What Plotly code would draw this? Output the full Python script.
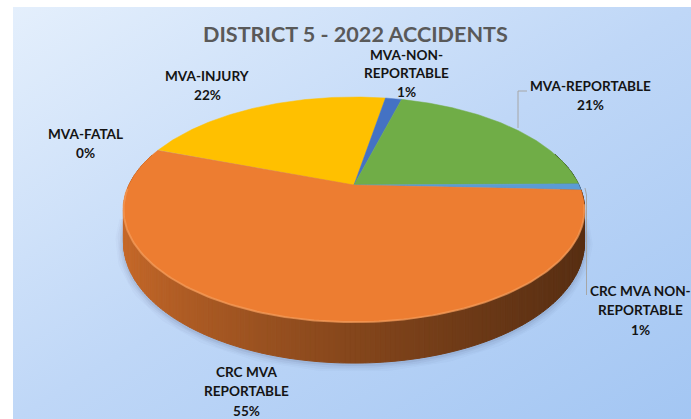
import base64, math
import plotly.graph_objects as go

# --- data ---
categories = ["MVA-FATAL", "MVA-INJURY", "MVA-NON-REPORTABLE", "MVA-REPORTABLE",
              "CRC MVA NON-REPORTABLE", "CRC MVA REPORTABLE"]
values = [0.1, 22.0, 1.4, 20.7, 0.9, 54.9]
colors = ["#A5A5A5", "#FFC000", "#4472C4", "#70AD47", "#5B9BD5", "#ED7D31"]
title_text = "DISTRICT 5 - 2022 ACCIDENTS"
# label lines (without the percentage) and where each label sits
label_lines = [["MVA-FATAL"], ["MVA-INJURY"], ["MVA-NON-", "REPORTABLE"], ["MVA-REPORTABLE"],
               ["CRC MVA NON-", "REPORTABLE"], ["CRC MVA", "REPORTABLE"]]
label_pos = [(85, 134), (207, 76), (406, 55), (590, 86), (640, 291), (246, 372)]
label_gap = [19.3, 19.3, 18.4, 19.3, 19.3, 19.3]

W, H = 691, 419
START = -69.4 - 0.36        # degrees clockwise from north
CX, CY = 354.0, 185.0       # apex on the page
A, B, K = 225.0, 107.2, 0.218  # perspective of the disc


def project(theta):
    t = math.radians(theta)
    u, v = math.sin(t), math.cos(t)
    d = 1 + K * v
    return CX + A * u / d, CY - B * v / d, v


def lower(theta):
    x, y, v = project(theta)
    return x, y + 30 + 11 * max(-v, 0)


def shade(hex_color, f):
    r, g, b = (int(hex_color[i:i + 2], 16) for i in (1, 3, 5))
    return f"rgb({r * f:.0f},{g * f:.0f},{b * f:.0f})"


def arc(a0, a1, step=0.5):
    n = max(2, int(abs(a1 - a0) / step) + 1)
    return [a0 + (a1 - a0) * i / (n - 1) for i in range(n)]


total = sum(values)
spans = []
a = START
for val in values:
    b = a + val / total * 360
    spans.append((a, b))
    a = b

fig = go.Figure()
no_hover = dict(hoverinfo="skip", showlegend=False, mode="lines")

# soft shadow round the lower rim
front = arc(92, 268, 1)
for w, op in [(16, 0.025), (12, 0.035), (8, 0.05), (4, 0.08)]:
    pts = [lower(t) for t in front]
    fig.add_trace(go.Scatter(x=[p[0] for p in pts], y=[p[1] + 1 for p in pts],
                             line=dict(color=f"rgba(50,60,90,{op})", width=w), **no_hover))

# side wall: one narrow strip per step, darkening to the right
for (a0, a1), col in zip(spans, colors):
    angles = arc(a0, a1, 1.0)
    for t0, t1 in zip(angles[:-1], angles[1:]):
        if math.cos(math.radians((t0 + t1) / 2)) > 0.3:
            continue
        p0, p1 = project(t0), project(t1)
        q0, q1 = lower(t0), lower(t1)
        frac = ((p0[0] + p1[0]) / 2 - 123) / 461
        f = 0.84 - 0.47 * frac ** 0.75
        c = shade(col, f)
        fig.add_trace(go.Scatter(x=[p0[0], p1[0], q1[0], q0[0], p0[0]],
                                 y=[p0[1], p1[1], q1[1], q0[1], p0[1]],
                                 fill="toself", fillcolor=c, line=dict(color=c, width=1), **no_hover))

# top face slices
for (a0, a1), col, name in zip(spans, colors, categories):
    pts = [project(t) for t in arc(a0, a1)]
    xs = [CX] + [p[0] for p in pts] + [CX]
    ys = [CY] + [p[1] for p in pts] + [CY]
    fig.add_trace(go.Scatter(x=xs, y=ys, fill="toself", fillcolor=col, mode="lines",
                             line=dict(color=col, width=0.5), name=name,
                             hoverinfo="name", showlegend=False))

# lighter bevel along the near rim
rim = [project(t) for t in arc(100, 268, 1)]
fig.add_trace(go.Scatter(x=[p[0] for p in rim], y=[p[1] for p in rim],
                         line=dict(color="rgba(246,160,95,0.65)", width=2), **no_hover))

# leader lines
fig.add_trace(go.Scatter(x=[518, 518, 527], y=[128, 91, 91],
                         line=dict(color="#A6A6A6", width=1), **no_hover))
fig.add_trace(go.Scatter(x=[585, 586.5, 586.5], y=[188, 195, 295],
                         line=dict(color="#A6A6A6", width=1), **no_hover))

# text
ann = [dict(x=355, y=33.5, text=f"<b>{title_text}</b>",
            font=dict(family="Lato", size=21.6, color="#595959"))]
for lines, (lx, ly), gap, val in zip(label_lines, label_pos, label_gap, values):
    for i, line in enumerate(lines + [f"{val / total * 100:.0f}%"]):
        ann.append(dict(x=lx, y=ly + i * gap, text=f"<b>{line}</b>",
                        font=dict(family="Lato", size=13.6, color="#141414")))
for a_ in ann:
    a_.update(xref="x", yref="y", showarrow=False, xanchor="center", yanchor="middle")

# panel gradient
svg = (f'<svg xmlns="http://www.w3.org/2000/svg" width="{W}" height="{H}">'
       '<defs><linearGradient id="g" x1="0" y1="0" x2="1" y2="1">'
       '<stop offset="0" stop-color="#E4EFFC"/><stop offset="0.5" stop-color="#BFD7F7"/>'
       '<stop offset="1" stop-color="#A3C6F3"/></linearGradient></defs>'
       f'<rect width="{W}" height="{H}" fill="url(#g)"/></svg>')
uri = "data:image/svg+xml;base64," + base64.b64encode(svg.encode()).decode()

fig.update_layout(
    width=W, height=H, margin=dict(l=0, r=0, t=0, b=0), paper_bgcolor="white",
    plot_bgcolor="white", showlegend=False, annotations=ann,
    xaxis=dict(range=[0, W], visible=False, fixedrange=True),
    yaxis=dict(range=[H, 0], visible=False, fixedrange=True),
    images=[dict(source=uri, xref="x", yref="y", x=13, y=7, sizex=W - 13, sizey=H - 7,
                 sizing="stretch", layer="below", xanchor="left", yanchor="top")],
)
fig.write_html("out.html", config=dict(displayModeBar=False),
               post_script="document.body.style.margin='0';document.body.style.overflow='hidden';")
